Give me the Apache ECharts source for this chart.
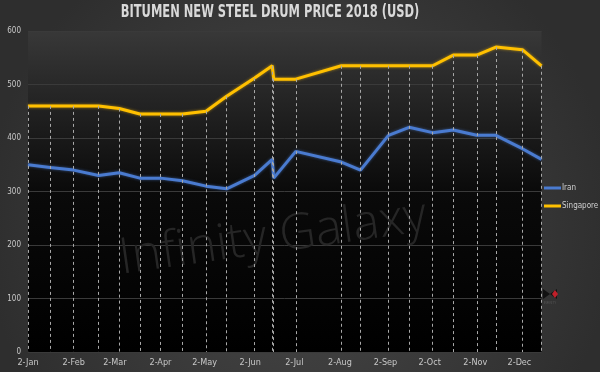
<!DOCTYPE html>
<html>
<head>
<meta charset="utf-8">
<script src="https://cdn.jsdelivr.net/npm/echarts@6/dist/echarts.min.js"></script>
<style>html,body{margin:0;padding:0;background:#333;}#c{width:600px;height:372px;}</style>
</head>
<body>
<div id="c"></div>
<script>
const dates = ['2018-01-02','2018-01-17','2018-02-02','2018-02-19','2018-03-05','2018-03-19','2018-04-02','2018-04-17','2018-05-03','2018-05-17','2018-06-05','2018-06-17','2018-06-18','2018-07-03','2018-08-03','2018-08-16','2018-09-04','2018-09-18','2018-10-04','2018-10-18','2018-11-03','2018-11-16','2018-12-04','2018-12-17'];
const iran = [350,345,340,330,335,325,325,320,310,305,330,360,325,375,355,340,405,420,410,415,405,405,380,360];
const singapore = [460,460,460,460,455,445,445,445,450,478,512,535,510,510,535,535,535,535,535,555,555,570,565,535];
const tickDates = ['2018-01-02','2018-02-02','2018-03-02','2018-04-02','2018-05-02','2018-06-02','2018-07-02','2018-08-02','2018-09-02','2018-10-02','2018-11-02','2018-12-02'];
const tickLabels = ['2-Jan','2-Feb','2-Mar','2-Apr','2-May','2-Jun','2-Jul','2-Aug','2-Sep','2-Oct','2-Nov','2-Dec'];
const titleText = 'BITUMEN NEW STEEL DRUM PRICE 2018 (USD)';

const DAY = 86400000;
function dayNum(s){const p=s.split('-').map(Number);return Math.round(Date.UTC(p[0],p[1]-1,p[2])/DAY);}
const xs = dates.map(dayNum);
const tickX = tickDates.map(dayNum);

const chart = echarts.init(document.getElementById('c'));
const font = '"DejaVu Sans Condensed", Roboto, sans-serif';
chart.setOption({
  animation:false,
  backgroundColor:{type:'radial',x:0.5,y:0.6,r:0.85,colorStops:[{offset:0,color:'#4a4a4a'},{offset:1,color:'#2e2e2e'}]},
  legend:{orient:'vertical',left:539,top:179,itemWidth:17,itemHeight:3,itemGap:10,
    icon:'rect',data:['Iran','Singapore'],
    textStyle:{color:'#d0d0d0',fontFamily:font,fontSize:8,padding:[0,0,0,-4]}},
  grid:{left:28,right:58.5,top:31,bottom:20,show:true,borderWidth:0,
    backgroundColor:{type:'linear',x:0,y:0,x2:0,y2:1,colorStops:[{offset:0,color:'#383838'},{offset:0.5,color:'#0a0a0a'},{offset:1,color:'#000'}]}},
  xAxis:{type:'value',min:xs[0],max:xs[xs.length-1],
    axisLine:{show:false},axisTick:{show:false},splitLine:{show:false},
    axisLabel:{customValues:tickX,color:'#c8c8c8',fontFamily:font,fontSize:9,margin:6,hideOverlap:false,
      formatter:function(v){const i=tickX.indexOf(v);return i>=0?tickLabels[i]:'';}}},
  yAxis:{type:'value',min:0,max:600,interval:100,
    axisLine:{show:false},axisTick:{show:false},
    splitLine:{lineStyle:{color:'#3a3a3a',width:1}},
    axisLabel:{color:'#c8c8c8',fontFamily:font,fontSize:8,margin:7}},
  graphic:[
    {type:'text',x:270,y:13,scaleX:0.75,z:10,
      style:{text:titleText,fill:'#d9d9d9',font:'bold 17px "DejaVu Sans Condensed", Roboto, sans-serif',textAlign:'center',textVerticalAlign:'middle'}},
    {type:'text',x:273,y:238,rotation:8*Math.PI/180,z:1,silent:true,
      style:{text:'Infinity Galaxy',fill:'#262626',font:'300 50px "Open Sans"',textAlign:'center',textVerticalAlign:'middle'}},
    {type:'group',x:550,y:294,z:5,children:[
      {type:'polygon',shape:{points:[[-7,-5],[0,0],[-7,5]]},style:{fill:'#111'}},
      {type:'polygon',shape:{points:[[7,-5],[0,0],[7,5]]},style:{fill:'#111'}},
      {type:'polygon',shape:{points:[[5,-4],[2,0],[5,4],[8,0]]},style:{fill:'#c0202a'}},
      {type:'text',x:0,y:8,style:{text:'INFINITY',fill:'#555',font:'3px sans-serif',textAlign:'center'}}
    ]}
  ],
  series:[
    {name:'drop',type:'line',data:[],z:2,silent:true,
      markLine:{silent:true,symbol:['none','none'],label:{show:false},animation:false,
        lineStyle:{type:[3,3],color:'#a8a8a8',width:1},
        data:xs.map((x,i)=>[{coord:[x,singapore[i]]},{coord:[x,0]}])}},
    {name:'Iran',type:'line',data:xs.map((x,i)=>[x,iran[i]]),symbol:'none',z:4,
      lineStyle:{color:'#4a7bd0',width:3,shadowBlur:3,shadowColor:'rgba(74,123,208,0.6)'},itemStyle:{color:'#4a7bd0'}},
    {name:'Singapore',type:'line',data:xs.map((x,i)=>[x,singapore[i]]),symbol:'none',z:4,
      lineStyle:{color:'#ffc000',width:3,shadowBlur:3,shadowColor:'rgba(255,192,0,0.6)'},itemStyle:{color:'#ffc000'}}
  ]
});
</script>
</body>
</html>
